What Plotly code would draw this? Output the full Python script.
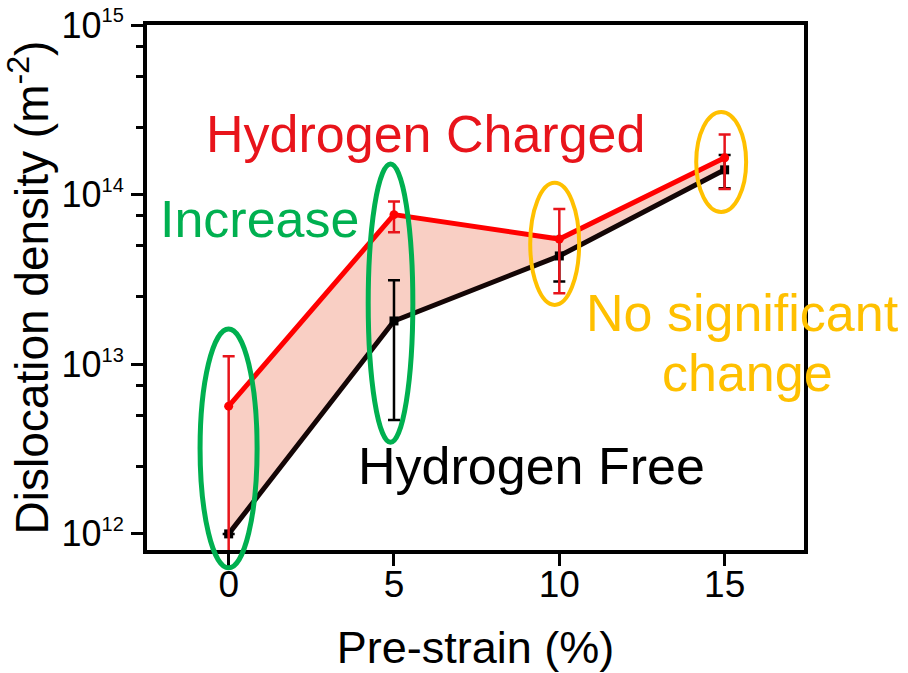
import numpy as np
import plotly.graph_objects as go

# ---- data ----
strain = [0, 5, 10, 15]
h_free = [1.0e12, 1.8e13, 4.35e13, 1.40e14]
h_free_err = [0.0, 1.33e13, 1.27e13, 0.31e14]
h_charged = [5.66e12, 7.62e13, 5.47e13, 1.65e14]
h_charged_err_plus = [5.5e12, 1.5e13, 2.75e13, 0.61e14]
h_charged_err_minus = [5.0e12, 1.62e13, 2.85e13, 0.57e14]
ytick_vals = [1e12, 1e13, 1e14, 1e15]
ytick_exp = ["12", "13", "14", "15"]
minor_vals = [m * 10.0 ** e for e in (12, 13, 14) for m in (2.5, 5, 7.5)]
xtick_vals = [0, 5, 10, 15]

XR = [-2.47, 17.4]
YR = [11.905, 15.0]

FONT = "Arial, Liberation Sans, sans-serif"

fig = go.Figure()

fig.add_trace(go.Scatter(
    x=strain, y=h_free, mode="lines+markers",
    line=dict(color="#140606", width=5),
    marker=dict(color="#000000", size=9, symbol="square"),
    error_y=dict(type="data", array=h_free_err, color="#000000",
                 thickness=2.5, width=6),
    cliponaxis=False, showlegend=False))

fig.add_trace(go.Scatter(
    x=strain, y=h_charged, mode="lines+markers",
    line=dict(color="#ff0000", width=5),
    marker=dict(color="#ff0000", size=9, symbol="circle"),
    fill="tonexty", fillcolor="#f9cfc4",
    error_y=dict(type="data", array=h_charged_err_plus,
                 arrayminus=h_charged_err_minus, color="#e8141b",
                 thickness=2.5, width=6),
    cliponaxis=False, showlegend=False))


def px(x):
    return (x - XR[0]) / (XR[1] - XR[0])


def py(ly):
    return (ly - YR[0]) / (YR[1] - YR[0])


# highlight ellipses (x data units, log10 y)
ellipses = [
    (-0.865, 0.86, 11.80, 13.208, "#00b050", 5),
    (4.22, 5.57, 12.54, 14.18, "#00b050", 5),
    (9.12, 10.6, 13.35, 14.07, "#ffc000", 4),
    (14.14, 15.65, 13.897, 14.487, "#ffc000", 4),
]
for x0, x1, y0, y1, c, w in ellipses:
    fig.add_shape(type="circle", xref="paper", yref="paper",
                  x0=px(x0), x1=px(x1), y0=py(y0), y1=py(y1),
                  line=dict(color=c, width=w), layer="above")

texts = [
    ("Hydrogen Charged", 5.95, 14.357, "#e8141b"),
    ("Increase", 0.92, 13.856, "#00b050"),
    ("Hydrogen Free", 9.15, 12.40, "#000000"),
    ("No significant", 15.53, 13.30, "#ffc000"),
    ("change", 15.68, 12.948, "#ffc000"),
]
for t, x, y, c in texts:
    fig.add_annotation(text=t, x=x, y=y, xref="x", yref="y",
                       showarrow=False, xanchor="center", yanchor="middle",
                       font=dict(family=FONT, size=52, color=c))

fig.update_layout(
    width=908, height=673,
    margin=dict(l=147, r=104, t=25, b=123),
    paper_bgcolor="white", plot_bgcolor="white",
    font=dict(family=FONT, color="black"),
)

fig.update_xaxes(
    range=XR, tickvals=xtick_vals, ticktext=[str(v) for v in xtick_vals],
    ticks="outside", ticklen=12, tickwidth=3, tickcolor="black",
    showline=True, linewidth=4, linecolor="black", mirror=True,
    showgrid=False, zeroline=False, automargin=False,
    tickfont=dict(family=FONT, size=37), ticklabelstandoff=-13,
    title=dict(text="Pre-strain (%)", font=dict(family=FONT, size=45),
               standoff=30),
)
fig.update_yaxes(
    type="log", range=YR, tickvals=ytick_vals,
    ticktext=["10<sup><span style='font-size:20px'>%s</span></sup>" % e
              for e in ytick_exp],
    ticks="outside", ticklen=12, tickwidth=3, tickcolor="black",
    minor=dict(tickvals=minor_vals, ticks="outside", ticklen=7,
               tickwidth=3, tickcolor="black", showgrid=False),
    showline=True, linewidth=4, linecolor="black", mirror=True,
    showgrid=False, zeroline=False, automargin=False,
    tickfont=dict(family=FONT, size=36),
    title=dict(text="Dislocation density (m<sup>-2</sup>)",
               font=dict(family=FONT, size=46)),
)

fig.write_html("out.html")
